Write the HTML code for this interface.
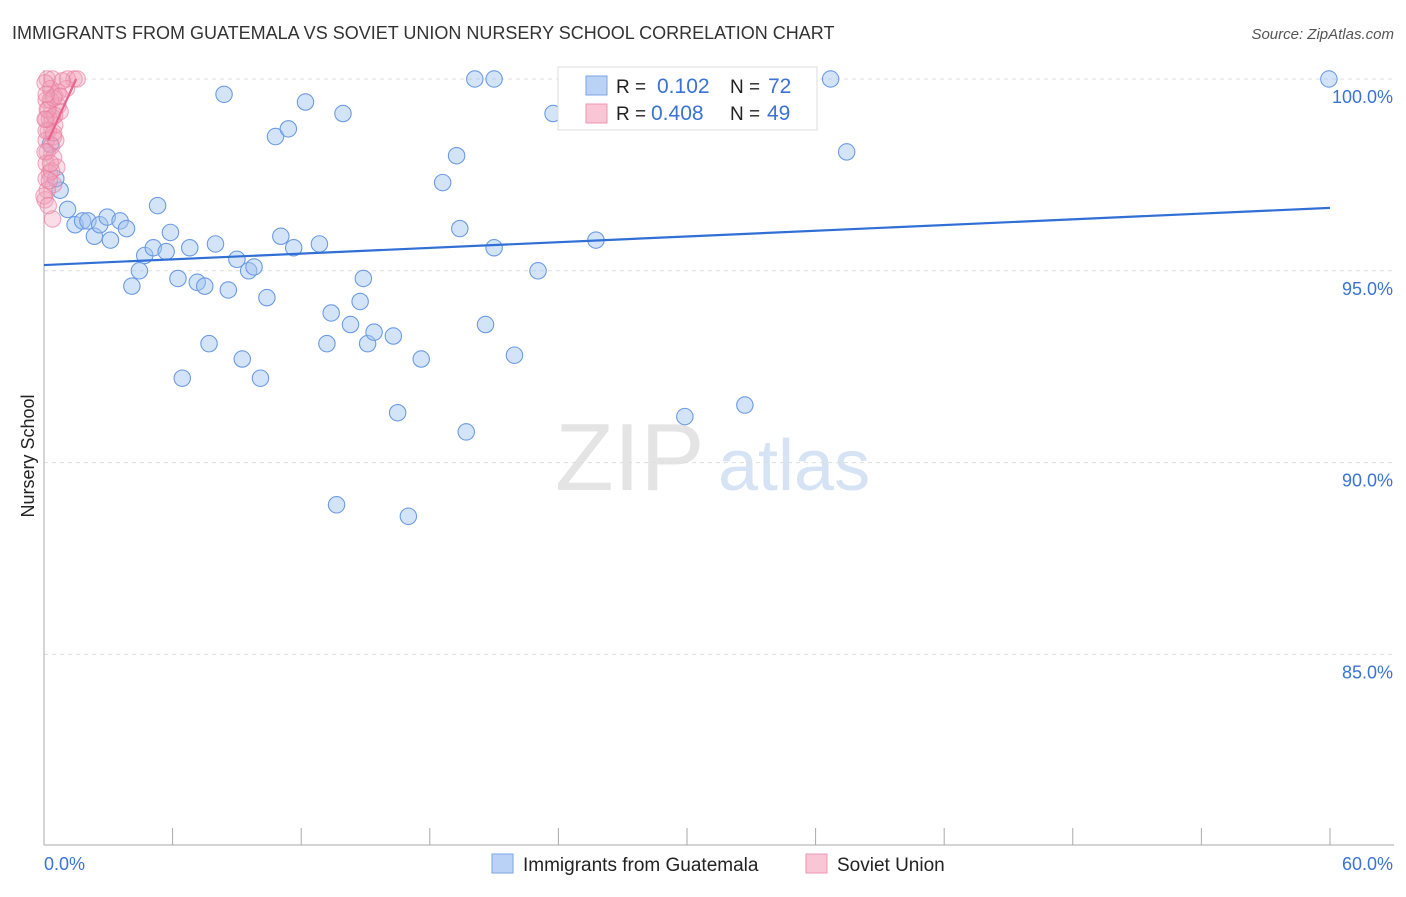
<!DOCTYPE html>
<html><head><meta charset="utf-8"><style>
body{margin:0;background:#fff;font-family:"Liberation Sans",sans-serif;}
svg text{font-family:"Liberation Sans",sans-serif;}
</style></head><body>
<svg id="c" width="1406" height="892" xmlns="http://www.w3.org/2000/svg">
<text x="12" y="39" font-size="18" fill="#333">IMMIGRANTS FROM GUATEMALA VS SOVIET UNION NURSERY SCHOOL CORRELATION CHART</text>
<text x="1394" y="39" font-size="15" fill="#555" font-style="italic" text-anchor="end">Source: ZipAtlas.com</text>
<text x="34" y="456" font-size="18" fill="#222" transform="rotate(-90 34 456)" text-anchor="middle">Nursery School</text>
<text x="555" y="490" font-size="96" fill="#e4e4e4" font-family="Liberation Serif">ZIP</text>
<text x="718" y="490" font-size="72" fill="#d6e3f5">atlas</text>
<g id="grid"></g><g id="pts"></g><g id="lines"></g>
<g>
<rect x="558" y="67" width="259" height="63" fill="#fff" stroke="#ddd"/>
<rect x="586" y="76" width="21" height="19" fill="#b9d2f5" stroke="#7aa6e6"/>
<rect x="586" y="104" width="21" height="19" fill="#f8c6d4" stroke="#ee97b0"/>
<text x="616" y="93" font-size="19" fill="#222">R = </text><text x="657" y="93" font-size="21" fill="#3a73d4">0.102</text>
<text x="730" y="93" font-size="19" fill="#222">N = </text><text x="768" y="93" font-size="21" fill="#3a73d4">72</text>
<text x="616" y="120" font-size="19" fill="#222">R = </text><text x="651" y="120" font-size="21" fill="#3a73d4">0.408</text>
<text x="730" y="120" font-size="19" fill="#222">N = </text><text x="767" y="120" font-size="21" fill="#3a73d4">49</text>
</g>
<g>
<rect x="492" y="854" width="21" height="19" fill="#b9d2f5" stroke="#7aa6e6"/>
<text x="523" y="871" font-size="19" fill="#222">Immigrants from Guatemala</text>
<rect x="806" y="854" width="21" height="19" fill="#f8c6d4" stroke="#ee97b0"/>
<text x="837" y="871" font-size="19" fill="#222">Soviet Union</text>
</g>
</svg>
<script>
const blueX=[0.3,0.75,1.1,1.45,1.8,2.05,2.35,2.6,2.95,3.1,3.55,3.85,4.1,4.45,4.7,5.1,5.3,5.7,5.9,6.25,6.45,6.8,7.15,7.5,7.7,8.0,8.4,8.6,9.0,9.25,9.55,9.8,10.1,10.4,10.8,11.05,11.4,11.65,12.2,12.85,13.2,13.4,13.65,13.95,14.3,14.75,14.9,15.1,15.4,16.3,16.5,17.0,17.6,18.6,19.25,19.4,19.7,20.1,20.6,21.0,21.0,21.95,23.05,23.75,25.75,29.9,32.7,33.65,36.7,37.45,59.95,0.55];
const blueY=[98.3,97.1,96.6,96.2,96.3,96.3,95.9,96.2,96.4,95.8,96.3,96.1,94.6,95.0,95.4,95.6,96.7,95.5,96.0,94.8,92.2,95.6,94.7,94.6,93.1,95.7,99.6,94.5,95.3,92.7,95.0,95.1,92.2,94.3,98.5,95.9,98.7,95.6,99.4,95.7,93.1,93.9,88.9,99.1,93.6,94.2,94.8,93.1,93.4,93.3,91.3,88.6,92.7,97.3,98.0,96.1,90.8,100.0,93.6,100.0,95.6,92.8,95.0,99.1,95.8,91.2,91.5,100.0,100.0,98.1,100.0,97.4];
const pinkX=[0.15,0.4,1.1,1.4,1.55,1.05,0.3,0.5,0.1,0.65,0.2,0.75,0.4,0.1,0.5,0.2,0.45,0.1,0.35,0.15,0.45,0.1,0.6,0.25,0.1,0.45,0.15,0.05,0.4,0.65,0.85,0.05,0.3,0.1,0.55,0.25,0.05,0.35,0.15,0.5,0.0,0.2,0.45,0.05,0.75,0.3,0.1,0.45,0.25];
const pinkY=[100.0,100.0,100.0,100.0,100.0,99.75,99.75,99.55,99.45,99.3,99.2,99.15,99.0,98.95,98.8,98.65,98.5,98.4,98.25,98.1,97.95,97.8,97.7,97.55,97.4,97.25,97.1,96.85,96.35,99.65,99.95,99.9,99.45,98.65,98.4,98.95,98.1,97.6,99.2,99.05,96.95,96.7,99.5,98.95,99.55,97.8,99.6,98.6,97.35];
const blueTrend=[95.15,96.64];
const pinkTrend=[98.4,100.0];
const pinkTrendX=[0.2,1.5];
const yTicks=[100,95,90,85];
const X=v=>44+v*21.433, Y=v=>79+(100-v)*38.36;
const NS='http://www.w3.org/2000/svg';
function mk(p,t,a){const e=document.createElementNS(NS,t);for(const k in a)e.setAttribute(k,a[k]);p.appendChild(e);return e;}
const g=document.getElementById('grid'),P=document.getElementById('pts'),L=document.getElementById('lines');
yTicks.forEach(t=>{const l=mk(g,'line',{x1:44,x2:1394,y1:Y(t),y2:Y(t),stroke:'#ddd','stroke-dasharray':'4 4'});


const tx=mk(g,'text',{x:1393,y:Y(t)+24,'font-size':18,fill:'#3a73d4','text-anchor':'end'});tx.textContent=t.toFixed(1)+'%';

});
const ax=mk(g,'line',{x1:44,x2:44,y1:70,y2:845,stroke:'#aaa'});


const bx=mk(g,'line',{x1:44,x2:1394,y1:845,y2:845,stroke:'#aaa'});


for(let k=0;k<=10;k++){const t=mk(g,'line',{x1:X(k*6),x2:X(k*6),y1:828,y2:845,stroke:'#aaa'});

}
[['0.0%',44,'start'],['60.0%',1393,'end']].forEach(a=>{const t=mk(g,'text',{x:a[1],y:870,'font-size':18,fill:'#3a73d4','text-anchor':a[2]});t.textContent=a[0];

});
blueX.forEach((x,i)=>{const c=mk(P,'circle',{cx:X(x),cy:Y(blueY[i]),r:8.2,fill:'rgba(160,196,240,0.45)',stroke:'#6b9be3','stroke-width':1.1});

});
pinkX.forEach((x,i)=>{const c=mk(P,'circle',{cx:X(x),cy:Y(pinkY[i]),r:8.2,fill:'rgba(242,160,186,0.35)',stroke:'rgba(232,120,155,0.6)','stroke-width':1.1});

});
const bl=mk(L,'line',{x1:X(0),x2:X(60),y1:Y(blueTrend[0]),y2:Y(blueTrend[1]),stroke:'#2f6fd6','stroke-width':2.2});


const pl=mk(L,'line',{x1:X(pinkTrendX[0]),x2:X(pinkTrendX[1]),y1:Y(pinkTrend[0]),y2:Y(pinkTrend[1]),stroke:'#e8648c','stroke-width':2.2});


</script>
</body></html>
